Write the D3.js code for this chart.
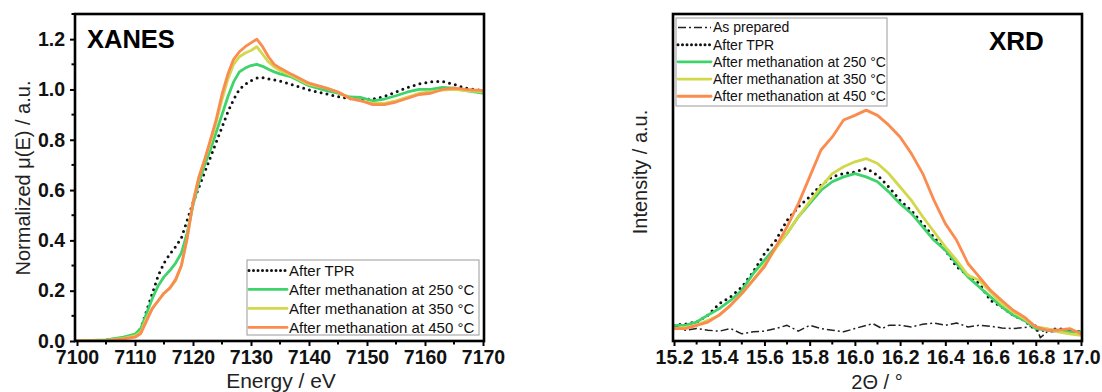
<!DOCTYPE html>
<html><head><meta charset="utf-8">
<script src="https://cdn.jsdelivr.net/npm/d3@7"></script>
<style>
body{margin:0;background:#fff;}
svg{font-family:"Liberation Sans",Arial,sans-serif;}
</style></head>
<body><svg id="c" width="1102" height="392"></svg>
<script>
// ---------- XANES data ----------
const xanesEnergy = [7100,7105,7108,7110,7111,7112,7113,7114,7115,7116,7117,7118,7119,7120,7121,7122,7123,7124,7125,7126,7127,7128,7129,7130,7131,7132,7133,7134,7135,7137,7140,7143,7145,7147,7149,7151,7153,7155,7157,7159,7161,7163,7165,7167,7170];
const xanesTPR = [0,0.003,0.012,0.025,0.05,0.12,0.19,0.26,0.31,0.345,0.375,0.41,0.48,0.55,0.61,0.67,0.73,0.79,0.85,0.91,0.96,1.0,1.02,1.035,1.045,1.047,1.042,1.038,1.033,1.02,0.998,0.982,0.972,0.963,0.96,0.962,0.972,0.99,1.008,1.022,1.03,1.032,1.02,1.005,0.995];
const xanes250 = [0,0.004,0.015,0.027,0.05,0.11,0.17,0.22,0.255,0.28,0.31,0.35,0.43,0.54,0.63,0.7,0.76,0.83,0.9,0.97,1.03,1.07,1.085,1.095,1.1,1.092,1.08,1.07,1.062,1.05,1.015,0.995,0.985,0.97,0.968,0.955,0.962,0.975,0.99,1.0,1.0,1.008,1.005,0.995,0.985];
const xanes350 = [0,0.002,0.01,0.02,0.035,0.09,0.13,0.16,0.19,0.21,0.24,0.3,0.41,0.55,0.65,0.72,0.79,0.87,0.96,1.04,1.1,1.13,1.145,1.155,1.17,1.14,1.11,1.09,1.075,1.055,1.02,1.005,0.99,0.965,0.955,0.945,0.945,0.955,0.97,0.985,0.99,0.997,1.0,0.995,0.99];
const xanes450 = [0,0.001,0.008,0.015,0.03,0.08,0.13,0.16,0.19,0.21,0.245,0.3,0.41,0.55,0.65,0.72,0.8,0.88,0.98,1.06,1.12,1.15,1.17,1.185,1.2,1.17,1.13,1.1,1.085,1.06,1.025,1.005,0.99,0.965,0.955,0.94,0.94,0.95,0.965,0.98,0.985,1.0,1.005,1.0,0.995];
const xanesXTicks = [7100,7110,7120,7130,7140,7150,7160,7170];
const xanesYTicks = [0,0.2,0.4,0.6,0.8,1.0,1.2];

// ---------- XRD data ----------
const xrdTheta = [15.2,15.25,15.3,15.35,15.4,15.45,15.5,15.55,15.6,15.65,15.7,15.75,15.8,15.85,15.9,15.95,16.0,16.05,16.1,16.15,16.2,16.25,16.3,16.35,16.4,16.45,16.5,16.55,16.6,16.65,16.7,16.75,16.8,16.85,16.9,16.95,17.0];
const xrdTPR = [4.8,5.2,5.8,7.9,11.4,13.5,16.5,21.1,26.7,30.8,36.9,41,44.1,47.7,50.2,51.2,51.7,52.8,50.7,47.1,43,39.9,35.8,31.7,27.8,22.7,20.1,17.6,12.4,10.4,7.9,6.3,3.3,3.3,3.8,3.3,2.8];
const xrd250 = [4.8,4.8,5.8,7.9,9.9,12.4,15.5,20.6,24.7,28.8,32.9,38,42,46.1,48.7,50.2,51.2,50.2,48.7,45.6,42,39,34.9,30.8,27.8,23.7,19.6,16.5,13.5,10.4,7.9,6.3,3.8,3.3,3.3,2.8,2.8];
const xrd350 = [3.8,4.2,4.8,6.3,7.9,10.9,14.5,18.6,23.2,28.3,32.9,38,42.6,47.1,51.2,53.3,54.8,55.8,54.3,51.2,47.1,43,38,33.4,28.8,24.7,20.1,18.6,15,11.4,8.9,6.8,4.3,3.8,2.8,2.2,1.7];
const xrd450 = [3.8,3.8,4.8,5.8,7.9,10.9,14.5,18.6,22.7,28.8,34.9,42,50.2,58.4,62.4,67.6,69,70.6,69,66,62.4,57.3,51.2,43,35.9,30.8,23.7,19.6,15.5,12.4,9.4,7.3,4.3,3.3,3.3,3.8,2.2];
const asPrepTheta = [15.2,15.25,15.3,15.35,15.4,15.45,15.5,15.55,15.6,15.65,15.7,15.75,15.8,15.85,15.9,15.95,16.0,16.05,16.08,16.12,16.15,16.2,16.25,16.3,16.35,16.4,16.45,16.5,16.55,16.6,16.65,16.7,16.75,16.8,16.82,16.85,16.9,16.95,17.0];
const asPrepI = [4.8,3.3,3.8,3.3,3.0,3.8,2.2,2.8,3.0,3.8,4.8,3.0,4.8,3.8,3.3,2.8,3.8,4.8,5.3,3.8,4.8,4.8,4.3,5.1,5.5,4.8,5.5,4.3,4.8,4.5,4.0,3.8,4.1,4.8,1.0,2.8,3.0,3.3,2.8];
const xrdXTicks = [15.2,15.4,15.6,15.8,16.0,16.2,16.4,16.6,16.8,17.0];

const seriesNames = ["As prepared","After TPR","After methanation at 250 °C","After methanation at 350 °C","After methanation at 450 °C"];
const colors = {tpr:"#111", g:"#3fd36b", y:"#d2d84c", o:"#fb8b4e"};

const svg = d3.select("#c");

function styleFor(k, legendRow){
  if(k==="prep") return {stroke:"#222", w:1.5, dash:"8,3,2,3", cap:"butt"};
  if(k==="tpr") return {stroke:colors.tpr, w:3, dash: legendRow ? "0,4.5" : "0,6", cap:"round"};
  return {stroke:colors[k], w:2.8, dash:null, cap:"round"};
}
function drawLine(g, xs, ys, x, y, k){
  const s = styleFor(k);
  const line = d3.line().x((d,i)=>x(xs[i])).y(d=>y(d));
  g.append("path").datum(ys).attr("d",line).attr("fill","none")
    .attr("stroke",s.stroke).attr("stroke-width",s.w)
    .attr("stroke-dasharray",s.dash).attr("stroke-linecap",s.cap).attr("stroke-linejoin","round");
}
function legend(g, x0, y0, w, h, rows, rowH, sampleW, fs){
  g.append("rect").attr("x",x0).attr("y",y0).attr("width",w).attr("height",h)
    .attr("fill","#fff").attr("stroke","#9a9a9a").attr("stroke-width",1);
  rows.forEach((r,i)=>{
    const cy = y0 + rowH*0.55 + i*rowH;
    const s = styleFor(r.k, true);
    g.append("line").attr("x1",x0+2).attr("x2",x0+2+sampleW).attr("y1",cy).attr("y2",cy)
      .attr("stroke",s.stroke).attr("stroke-width",s.w).attr("stroke-dasharray",s.dash).attr("stroke-linecap",s.cap);
    g.append("text").attr("x",x0+sampleW+4).attr("y",cy).attr("dy","0.35em")
      .attr("font-size",fs).attr("fill","#111").text(r.t);
  });
}

// ================= XANES panel =================
{
  const L=75, R=484, T=14, B=341;
  const x = d3.scaleLinear().domain([7100,7170]).range([77,483]);
  const y = d3.scaleLinear().domain([0,1.3]).range([341,14]);
  const g = svg.append("g");
  g.append("clipPath").attr("id","clipA").append("rect").attr("x",L).attr("y",T).attr("width",R-L).attr("height",B-T);
  const pl = g.append("g").attr("clip-path","url(#clipA)");
  drawLine(pl, xanesEnergy, xanesTPR, x, y, "tpr");
  drawLine(pl, xanesEnergy, xanes250, x, y, "g");
  drawLine(pl, xanesEnergy, xanes350, x, y, "y");
  drawLine(pl, xanesEnergy, xanes450, x, y, "o");

  d3.range(7105,7170,10).forEach(v=>g.append("line").attr("x1",x(v)).attr("x2",x(v)).attr("y1",B).attr("y2",B+3.5).attr("stroke","#000").attr("stroke-width",2));
  d3.range(0.1,1.35,0.2).forEach(v=>g.append("line").attr("x1",L).attr("x2",L-3.5).attr("y1",y(v)).attr("y2",y(v)).attr("stroke","#000").attr("stroke-width",2));
  const ax = d3.axisBottom(x).tickValues(xanesXTicks).tickFormat(d3.format("d")).tickSize(5).tickSizeOuter(0).tickPadding(4);
  const axg = g.append("g").attr("transform",`translate(0,${B})`).call(ax);
  const ay = d3.axisLeft(y).tickValues(xanesYTicks).tickFormat(d3.format(".1f")).tickSize(5).tickSizeOuter(0).tickPadding(5);
  const ayg = g.append("g").attr("transform",`translate(${L},0)`).call(ay);
  [axg,ayg].forEach(a=>{a.select(".domain").remove();a.selectAll("line").attr("stroke","#000").attr("stroke-width",2);
    a.selectAll("text").attr("font-size",19.5).attr("font-weight","bold").attr("fill","#111").attr("font-family",'"Liberation Sans",Arial,sans-serif');});
  axg.selectAll("text").attr("dy","0.72em");
  g.append("rect").attr("x",L).attr("y",T).attr("width",R-L).attr("height",B-T).attr("fill","none").attr("stroke","#000").attr("stroke-width",2.6);

  g.append("text").attr("x",87).attr("y",48).attr("font-size",25.5).attr("font-weight","bold").text("XANES");
  g.append("text").attr("x",281).attr("y",388).attr("text-anchor","middle").attr("font-size",21).attr("fill","#222").text("Energy / eV");
  g.append("text").attr("transform","translate(30,178) rotate(-90)").attr("text-anchor","middle").attr("font-size",20).attr("fill","#222").text("Normalized μ(E) / a.u.");

  legend(g, 247, 260, 232, 75, [
    {k:"tpr",t:seriesNames[1]},{k:"g",t:seriesNames[2]},{k:"y",t:seriesNames[3]},{k:"o",t:seriesNames[4]}
  ], 19, 38, 15);
}

// ================= XRD panel =================
{
  const L=673, R=1082, T=14, B=341;
  const x = d3.scaleLinear().domain([15.2,17.0]).range([674,1081]);
  const y = d3.scaleLinear().domain([0,100]).range([341,14]);
  const g = svg.append("g");
  g.append("clipPath").attr("id","clipB").append("rect").attr("x",L).attr("y",T).attr("width",R-L).attr("height",B-T);
  const pl = g.append("g").attr("clip-path","url(#clipB)");
  drawLine(pl, asPrepTheta, asPrepI, x, y, "prep");
  drawLine(pl, xrdTheta, xrdTPR, x, y, "tpr");
  drawLine(pl, xrdTheta, xrd250, x, y, "g");
  drawLine(pl, xrdTheta, xrd350, x, y, "y");
  drawLine(pl, xrdTheta, xrd450, x, y, "o");

  d3.range(15.3,17.0,0.2).forEach(v=>g.append("line").attr("x1",x(v)).attr("x2",x(v)).attr("y1",B).attr("y2",B+3.5).attr("stroke","#000").attr("stroke-width",2));
  const ax = d3.axisBottom(x).tickValues(xrdXTicks).tickFormat(d3.format(".1f")).tickSize(5).tickSizeOuter(0).tickPadding(4);
  const axg = g.append("g").attr("transform",`translate(0,${B})`).call(ax);
  axg.select(".domain").remove();
  axg.selectAll("line").attr("stroke","#000").attr("stroke-width",2);
  axg.selectAll("text").attr("font-size",19.5).attr("font-weight","bold").attr("fill","#111").attr("dy","0.72em").attr("font-family",'"Liberation Sans",Arial,sans-serif');
  g.append("rect").attr("x",L).attr("y",T).attr("width",R-L).attr("height",B-T).attr("fill","none").attr("stroke","#000").attr("stroke-width",2.6);

  g.append("text").attr("x",989).attr("y",50).attr("font-size",26).attr("font-weight","bold").text("XRD");
  g.append("text").attr("x",877).attr("y",389).attr("text-anchor","middle").attr("font-size",20).attr("fill","#222").text("2Θ / °");
  g.append("text").attr("transform","translate(647,172) rotate(-90)").attr("text-anchor","middle").attr("font-size",20).attr("fill","#222").text("Intensity / a.u.");

  legend(g, 676, 18, 211, 88, [
    {k:"prep",t:seriesNames[0]},{k:"tpr",t:seriesNames[1]},{k:"g",t:seriesNames[2]},{k:"y",t:seriesNames[3]},{k:"o",t:seriesNames[4]}
  ], 17.2, 33, 14);
}
</script></body></html>
